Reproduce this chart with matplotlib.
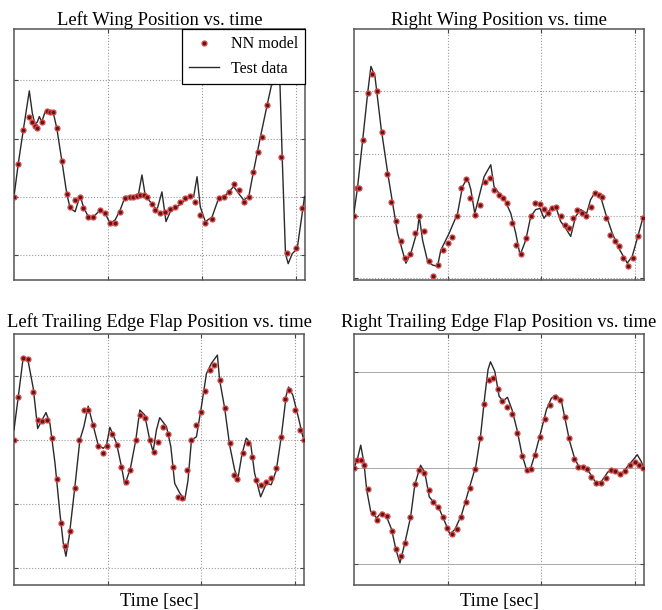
import matplotlib
matplotlib.use("Agg")
import matplotlib.pyplot as plt

plt.rcParams['font.family'] = ['Liberation Serif', 'DejaVu Serif']

# ---------------- Data ----------------
titles = ["Left Wing Position vs. time", "Right Wing Position vs. time",
          "Left Trailing Edge Flap Position vs. time", "Right Trailing Edge Flap Position vs. time"]

# Left wing
lw_nn_t = [0.0, 0.46, 0.99, 1.60, 1.95, 2.24, 2.49, 2.96, 3.49, 3.84, 4.19, 4.56, 5.09, 5.62, 5.98,
           6.51, 7.04, 7.40, 7.93, 8.46, 9.18, 9.71, 10.24, 10.78, 11.31, 11.85, 12.38, 12.73, 13.09,
           13.45, 13.80, 14.16, 14.70, 15.05, 15.58, 16.11, 16.65, 17.18, 17.72, 18.25, 18.78, 19.32,
           19.85, 20.38, 21.10, 21.80, 22.34, 22.87, 23.40, 23.94, 24.47, 25.01, 25.47, 25.97, 26.44,
           26.97, 27.43, 27.96, 28.49, 29.03, 29.99, 30.70]
lw_nn_y = [0.01, 0.56, 1.15, 1.38, 1.29, 1.21, 1.18, 1.29, 1.48, 1.46, 1.45, 1.18, 0.62, 0.06, -0.17,
           -0.05, 0.01, -0.19, -0.34, -0.34, -0.22, -0.27, -0.45, -0.44, -0.25, -0.02, 0.01, 0.01, 0.02,
           0.03, 0.03, 0.01, -0.11, -0.22, -0.28, -0.25, -0.21, -0.17, -0.08, -0.02, 0.02, -0.08,
           -0.31, -0.45, -0.37, -0.02, 0.01, 0.09, 0.23, 0.12, -0.08, 0.01, 0.43, 0.78, 1.03,
           1.58, 1.97, 2.18, 0.69, -0.95, -0.88, -0.19]
lw_td_t = [0.0, 0.46, 0.99, 1.63, 1.95, 2.24, 2.49, 2.70, 2.96, 3.31, 3.84, 4.19, 4.56, 5.09, 5.62,
           5.98, 6.51, 7.04, 7.40, 7.93, 8.46, 9.18, 9.71, 10.24, 10.78, 11.31, 11.85, 12.73, 13.27,
           13.63, 13.98, 14.51, 15.23, 15.76, 16.19, 16.65, 17.36, 18.43, 19.14, 19.50, 19.85, 20.38,
           21.10, 21.80, 22.52, 23.40, 23.94, 24.47, 25.01, 25.54, 26.25, 26.97, 27.50, 27.96, 28.32,
           28.57, 28.92, 29.21, 29.64, 30.17, 30.70, 30.95]
lw_td_y = [0.01, 0.58, 1.15, 1.82, 1.44, 1.24, 1.29, 1.38, 1.29, 1.46, 1.48, 1.44, 1.18, 0.63, 0.06,
           -0.19, -0.25, 0.03, -0.17, -0.34, -0.34, -0.22, -0.28, -0.45, -0.39, -0.22, 0.01, 0.02, 0.06,
           0.38, 0.03, -0.08, -0.22, 0.09, -0.42, -0.25, -0.17, -0.02, 0.01, 0.35, -0.17, -0.42,
           -0.34, -0.02, 0.03, 0.18, 0.06, -0.05, 0.01, 0.46, 1.03, 1.58, 1.97, 2.18, 2.01,
           0.69, -0.97, -1.14, -0.97, -0.88, -0.28, 0.01]

# Right wing
rw_nn_t = [0.0, 0.29, 0.57, 0.99, 1.53, 1.95, 2.49, 3.02, 3.49, 3.98, 4.48, 4.98, 5.47, 5.98, 6.48,
           6.97, 7.47, 7.97, 8.46, 8.96, 9.53, 10.0, 10.43, 10.96, 11.42, 11.95, 12.45, 12.91, 13.45,
           13.95, 14.51, 15.0, 15.47, 15.93, 16.40, 16.89, 17.36, 17.82, 18.43, 18.96, 19.39, 19.85,
           20.31, 20.74, 21.16, 21.63, 22.09, 22.52, 22.95, 23.40, 23.87, 24.36, 24.83, 25.29, 25.72,
           26.15, 26.50, 26.97, 27.40, 27.86, 28.28, 28.78, 29.28, 29.81, 30.34, 30.88]
rw_nn_y = [0.0, 0.44, 0.44, 1.22, 1.97, 2.27, 2.01, 1.34, 0.67, 0.23, -0.08, -0.41, -0.68, -0.61, -0.27,
           0.00, -0.25, -0.73, -0.96, -0.79, -0.55, -0.44, -0.34, -0.01, 0.45, 0.59, 0.28, 0.02, 0.17,
           0.54, 0.61, 0.41, 0.34, 0.28, 0.20, -0.12, -0.47, -0.61, -0.36, -0.01, 0.20, 0.19,
           0.11, 0.04, 0.12, 0.15, 0.00, -0.14, -0.20, -0.04, 0.10, 0.04, -0.01, 0.15, 0.36,
           0.34, 0.30, -0.03, -0.30, -0.40, -0.49, -0.68, -0.80, -0.68, -0.33, -0.03]
rw_td_t = [0.0, 0.39, 0.93, 1.46, 1.81, 2.24, 2.88, 3.60, 4.13, 4.66, 5.55, 6.08, 6.80, 6.97, 7.33,
           7.87, 8.40, 8.93, 9.28, 10.17, 11.07, 11.60, 12.13, 12.49, 12.91, 13.37, 13.91, 14.62, 14.97,
           15.51, 16.04, 16.76, 17.29, 17.75, 18.36, 18.89, 19.42, 19.88, 20.31, 21.02, 21.56, 22.09,
           22.63, 23.16, 23.69, 24.23, 24.87, 25.29, 25.83, 26.36, 26.89, 27.61, 28.31, 29.21, 29.74,
           30.34, 30.92]
rw_td_y = [0.05, 0.47, 1.22, 1.97, 2.40, 2.24, 1.43, 0.69, 0.20, -0.28, -0.76, -0.60, -0.22, 0.0, -0.39,
           -0.73, -0.79, -0.81, -0.55, -0.28, 0.04, 0.47, 0.61, 0.42, 0.04, 0.31, 0.63, 0.82, 0.47,
           0.36, 0.28, 0.04, -0.28, -0.63, -0.39, -0.01, 0.10, 0.12, -0.04, 0.12, 0.15, -0.09,
           -0.20, -0.33, -0.01, 0.10, 0.04, 0.26, 0.39, 0.31, 0.04, -0.28, -0.52, -0.76, -0.65,
           -0.33, -0.01]

# Left trailing edge flap
lf_nn_t = [0.0, 0.46, 0.99, 1.53, 2.06, 2.53, 3.02, 3.49, 4.02, 4.56, 5.02, 5.47, 5.98, 6.48, 6.97,
           7.47, 7.93, 8.46, 9.0, 9.53, 9.96, 10.43, 10.96, 11.49, 11.95, 12.45, 13.02, 13.52, 13.98,
           14.51, 14.94, 15.44, 15.93, 16.47, 17.0, 17.53, 17.96, 18.50, 18.97, 19.50, 19.96, 20.46,
           20.92, 21.38, 21.98, 22.52, 23.05, 23.51, 23.87, 24.47, 25.01, 25.43, 25.90, 26.44, 26.97,
           27.50, 27.96, 28.50, 28.92, 29.35, 29.99, 30.52, 30.98]
lf_nn_y = [0.0, 0.68, 1.28, 1.27, 0.75, 0.31, 0.29, 0.31, 0.03, -0.61, -1.30, -1.66, -1.42, -0.75, 0.0,
           0.47, 0.47, 0.23, -0.09, -0.20, -0.10, 0.10, -0.08, -0.42, -0.65, -0.47, 0.0, 0.39, 0.35,
           0.0, -0.18, -0.03, 0.21, 0.10, -0.42, -0.89, -0.91, -0.47, 0.0, 0.23, 0.44, 0.77,
           1.09, 1.17, 0.94, 0.50, -0.05, -0.55, -0.61, -0.21, -0.05, -0.26, -0.63, -0.70, -0.65,
           -0.60, -0.44, 0.05, 0.65, 0.78, 0.47, 0.16, 0.0]
lf_td_t = [0.0, 0.46, 0.99, 1.53, 2.06, 2.53, 3.02, 3.42, 3.84, 4.38, 4.91, 5.26, 5.55, 5.90, 6.51,
           7.04, 7.47, 7.93, 8.46, 9.0, 9.53, 9.89, 10.25, 10.96, 11.49, 11.85, 12.45, 13.02, 13.45,
           13.98, 14.51, 14.87, 15.23, 15.58, 16.30, 16.76, 17.18, 17.72, 18.25, 18.60, 18.97, 19.50,
           20.03, 20.57, 21.10, 21.74, 21.98, 22.52, 23.05, 23.59, 23.94, 24.36, 24.83, 25.29, 25.72,
           26.36, 26.97, 27.50, 28.04, 28.57, 29.10, 29.35, 29.81, 30.34, 30.88]
lf_td_y = [0.16, 0.68, 1.30, 1.22, 0.81, 0.18, 0.32, 0.43, 0.26, -0.36, -1.15, -1.61, -1.82, -1.51, -0.73,
           0.0, 0.21, 0.53, 0.23, -0.08, -0.13, -0.08, 0.20, -0.05, -0.42, -0.70, -0.44, 0.0, 0.47,
           0.39, 0.0, -0.18, 0.16, 0.35, 0.21, -0.10, -0.68, -0.83, -0.94, -0.63, 0.0, 0.05,
           0.52, 1.04, 1.20, 1.33, 0.94, 0.50, -0.08, -0.47, -0.60, -0.23, 0.03, -0.05, -0.52,
           -0.89, -0.68, -0.70, -0.47, 0.05, 0.70, 0.83, 0.70, 0.39, 0.05]

# Right trailing edge flap
rf_nn_t = [0.0, 0.35, 0.72, 1.07, 1.53, 2.0, 2.49, 3.02, 3.55, 4.02, 4.48, 4.98, 5.47, 5.98, 6.51,
           6.97, 7.47, 7.97, 8.46, 9.0, 9.53, 9.96, 10.43, 10.96, 11.49, 11.95, 12.45, 12.95, 13.45,
           13.91, 14.44, 14.87, 15.40, 15.83, 16.36, 16.89, 17.43, 17.96, 18.50, 18.96, 19.39, 19.93,
           20.38, 20.92, 21.45, 21.98, 22.52, 22.95, 23.48, 23.94, 24.47, 24.94, 25.37, 25.90, 26.36,
           26.89, 27.43, 27.93, 28.46, 29.0, 29.46, 29.99, 30.42, 30.88]
rf_nn_y = [0.0, 0.09, 0.09, 0.03, -0.22, -0.47, -0.54, -0.48, -0.50, -0.66, -0.84, -0.92, -0.78, -0.51, -0.17,
           -0.02, -0.05, -0.23, -0.35, -0.41, -0.51, -0.63, -0.69, -0.64, -0.51, -0.35, -0.21, -0.01, 0.31,
           0.67, 0.92, 0.94, 0.83, 0.70, 0.64, 0.57, 0.37, 0.13, -0.02, -0.01, 0.14, 0.32,
           0.51, 0.66, 0.74, 0.71, 0.53, 0.31, 0.10, 0.01, 0.01, -0.01, -0.09, -0.16, -0.16,
           -0.10, -0.02, -0.03, -0.06, -0.03, 0.03, 0.06, 0.03, 0.0]
rf_td_t = [0.0, 0.35, 0.72, 1.07, 1.36, 1.78, 2.42, 2.96, 3.49, 4.02, 4.48, 4.91, 5.44, 6.05, 6.51,
           7.12, 7.58, 8.04, 8.64, 9.18, 9.71, 10.25, 10.78, 11.49, 12.38, 13.02, 13.52, 13.98, 14.33,
           14.59, 15.05, 15.51, 15.93, 16.40, 16.89, 17.43, 17.96, 18.43, 18.89, 19.39, 20.03, 20.57,
           21.10, 21.63, 22.17, 22.59, 23.05, 23.59, 24.01, 24.65, 25.19, 25.90, 26.44, 27.14, 27.86,
           28.50, 29.10, 29.70, 30.28, 30.70, 30.98]
rf_td_y = [0.0, 0.09, 0.24, 0.05, -0.23, -0.45, -0.52, -0.46, -0.51, -0.64, -0.85, -0.99, -0.78, -0.51, -0.17,
           0.03, -0.05, -0.30, -0.37, -0.44, -0.56, -0.69, -0.64, -0.49, -0.19, 0.02, 0.33, 0.75, 1.03,
           1.11, 1.01, 0.75, 0.70, 0.74, 0.61, 0.40, 0.14, -0.01, 0.0, 0.16, 0.40, 0.61,
           0.73, 0.76, 0.70, 0.50, 0.28, 0.10, 0.02, 0.01, -0.05, -0.16, -0.14, -0.04, -0.02,
           -0.07, 0.0, 0.07, 0.14, 0.07, 0.0]

ylims = [(-1.42, 2.88), (-1.03, 3.0), (-2.27, 1.66), (-1.22, 1.40)]
yticks = [[-1, 0, 1, 2], [-1, 0, 1, 2], [-2, -1, 0, 1], [-1, 0, 1]]
xticks = [10, 20, 30]
xlim = (0, 31.0)

series = [(lw_nn_t, lw_nn_y, lw_td_t, lw_td_y),
          (rw_nn_t, rw_nn_y, rw_td_t, rw_td_y),
          (lf_nn_t, lf_nn_y, lf_td_t, lf_td_y),
          (rf_nn_t, rf_nn_y, rf_td_t, rf_td_y)]

# ---------------- Figure ----------------
fig = plt.figure(figsize=(6.62, 6.10), dpi=100)
positions = [(14/662, 1-280/610, 291/662, 251/610),
             (354/662, 1-280/610, 290/662, 251/610),
             (14/662, 1-585/610, 290/662, 251/610),
             (354/662, 1-585/610, 290/662, 251/610)]

for i, (pos, (nt, ny, tt, ty)) in enumerate(zip(positions, series)):
    ax = fig.add_axes(pos)
    ax.plot(tt, ty, color='#2a2a2a', lw=1.0, zorder=3, label='Test data')
    ax.plot(nt, ny, linestyle='none', marker='o', markersize=3.6,
            markerfacecolor='#5a1a1a', markeredgecolor='#e04848', markeredgewidth=0.9,
            zorder=4, label='NN model')
    ax.set_xlim(*xlim)
    ax.set_ylim(*ylims[i])
    ax.set_xticks(xticks)
    ax.set_yticks(yticks[i])
    ax.set_xticklabels([])
    ax.set_yticklabels([])
    ax.tick_params(direction='in', length=3, width=0.8, color='#444444',
                   top=True, right=True)
    ax.xaxis.grid(True, linestyle=':', color='#999999', lw=0.8)
    if i == 3:
        ax.yaxis.grid(True, linestyle='-', color='#aaaaaa', lw=0.7)
    else:
        ax.yaxis.grid(True, linestyle=':', color='#999999', lw=0.8)
    ax.set_axisbelow(True)
    for s in ax.spines.values():
        s.set_color('#555555')
        s.set_linewidth(1.1)
    ax.set_title(titles[i], fontsize=13.4, pad=2 if i < 2 else 5)
    if i >= 2:
        ax.set_xlabel('Time [sec]', fontsize=13.3, labelpad=2)
    if i == 0:
        h, l = ax.get_legend_handles_labels()
        leg = ax.legend([h[1], h[0]], [l[1], l[0]], loc='upper right', fontsize=11.5,
                        frameon=True, fancybox=False, edgecolor='black', framealpha=1.0,
                        borderpad=0.45, labelspacing=0.55, handlelength=1.9,
                        handletextpad=0.7, borderaxespad=0.0)
        leg.get_frame().set_linewidth(0.9)
        leg.set_zorder(10)

fig.savefig('out.png', dpi=100)
